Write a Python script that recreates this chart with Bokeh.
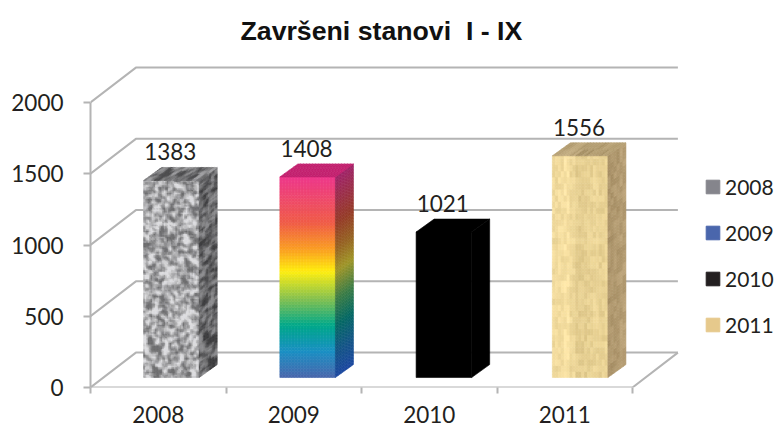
import math
from bokeh.plotting import figure
from bokeh.models import FixedTicker, Legend, LegendItem, Title
from bokeh.core.properties import value
from bokeh.embed import file_html
from bokeh.resources import INLINE

categories = ["2008", "2009", "2010", "2011"]
values = [1383, 1408, 1021, 1556]
y_ticks = [0, 500, 1000, 1500, 2000]
title_text = "Završeni stanovi\u00a0\u00a0I - IX"
legend_colors = ["#85858c", "#4a66ac", "#231f20", "#e6c98c"]

X_END = 687 / 135.5
Y_END = 337 / 0.1425
WALL_DX, WALL_DY = 0.335, 245
WALL_RIGHT = 4.0
BAR_X0, BAR_STEP, BAR_W = 0.392, 1.0055, 0.41
BAR_BASE = 70
BAR_DX, BAR_DY = 0.133, 91
GRAY = "#b4b4b4"
TEXT = "#231f20"

p = figure(width=777, height=430,
           x_range=(0, X_END), y_range=(0, Y_END),
           output_backend="svg", toolbar_location=None,
           min_border_left=90, min_border_right=0, min_border_bottom=43,
           min_border_top=50)
p.outline_line_color = None
p.grid.visible = False
p.background_fill_color = "white"

t = Title(text=title_text, text_font="Liberation Sans", text_font_style="bold",
          text_font_size="26.7px", text_color="#111111", align="left", offset=150, standoff=9)
p.add_layout(t, "above")

# axes
xa = p.xaxis[0]
xa.ticker = FixedTicker(ticks=[i + 0.5 for i in range(4)], minor_ticks=list(range(5)))
xa.major_label_overrides = {i + 0.5: c for i, c in enumerate(categories)}
xa.major_tick_line_color = None
xa.minor_tick_line_color = GRAY
xa.minor_tick_line_width = 2
xa.minor_tick_in = 0
xa.minor_tick_out = 6
xa.axis_line_color = None
xa.major_label_text_font = "Lato"
xa.major_label_text_font_size = "22.5px"
xa.major_label_text_color = TEXT
xa.major_label_standoff = 12

ya = p.yaxis[0]
ya.ticker = FixedTicker(ticks=y_ticks)
ya.major_tick_line_color = GRAY
ya.major_tick_line_width = 2
ya.major_tick_in = 0
ya.major_tick_out = 7
ya.minor_tick_line_color = None
ya.axis_line_color = GRAY
ya.axis_line_width = 2
ya.major_label_text_font = "Lato"
ya.major_label_text_font_size = "22.5px"
ya.major_label_text_color = TEXT
ya.major_label_standoff = 20
ya.bounds = (0, 2000)

# walls
xs, ys = [], []
for v in y_ticks:
    xs.append([0, WALL_DX, WALL_RIGHT + WALL_DX])
    ys.append([v, v + WALL_DY, v + WALL_DY])
xs.append([0, WALL_RIGHT, WALL_RIGHT + WALL_DX])
ys.append([0, 0, WALL_DY])
p.multi_line(xs, ys, line_color=GRAY, line_width=2)


def h(i, j, s=0):
    v = math.sin(i * 12.9898 + j * 78.233 + s * 37.719) * 43758.5453
    return v - math.floor(v)


def smooth(i, j, s=0):
    return (2 * h(i, j, s) + h(i + 1, j, s) + h(i - 1, j, s) + h(i, j + 1, s) + h(i, j - 1, s)) / 6


def blotch(i, j, s=0):
    total = 0
    for di in (-1, 0, 1):
        for dj in (-1, 0, 1):
            total += smooth(i + di, j + dj, s)
    return total / 9


def lerp(stops, f):
    for (a, ca), (b, cb) in zip(stops, stops[1:]):
        if f <= b:
            k = (f - a) / (b - a)
            return tuple(ca[n] + (cb[n] - ca[n]) * k for n in range(3))
    return stops[-1][1]


def hexc(c):
    return "#%02x%02x%02x" % tuple(max(0, min(255, int(round(x)))) for x in c)


rainbow = [(0.0, (238, 56, 140)), (0.23, (240, 92, 70)), (0.36, (250, 158, 34)), (0.47, (255, 238, 16)),
           (0.61, (130, 192, 80)), (0.74, (0, 168, 138)), (0.87, (26, 143, 196)), (1.0, (74, 102, 172))]
rainbow_side = [(0.0, (160, 36, 105)), (0.23, (150, 60, 40)), (0.36, (150, 100, 35)), (0.47, (160, 150, 40)),
                (0.61, (60, 125, 70)), (0.74, (5, 105, 100)), (0.87, (20, 85, 135)), (1.0, (28, 72, 160))]


def granite(i, j, face):
    n = blotch(i, j, 1)
    g = max(0, min(1, 0.55 + (n - 0.5) * 3.6 + (smooth(i, j, 2) - 0.5) * 1.2))
    lo, hi = {"front": (110, 222), "side": (60, 140), "top": (75, 160)}[face]
    c = lo + (hi - lo) * g
    return (c, c, c + 2)


def rain(i, j, face, nv=1):
    return lerp(rainbow if face == "front" else rainbow_side, 1 - (j + 0.5) / nv) if face != "top" else (194, 32, 110)


def black(i, j, face, nv=1):
    return (0, 0, 0)


def wood(i, j, face):
    band = smooth(i // 2, 0, 3) - 0.5
    n = h(i, j // 2, 4) - 0.5
    base = {"front": (237, 214, 152), "side": (170, 146, 104), "top": (182, 160, 116)}[face]
    d = band * 50 + n * 18
    return (base[0] + d, base[1] + d, base[2] + d)


cell_y = 3 / 0.1425
px, py, pc = [], [], []


def face(x0, y0, ux, uy, vx, vy, nu, nv, fn, name):
    for i in range(nu):
        for j in range(nv):
            a = i / nu; b = (i + 1) / nu; c = j / nv; d = (j + 1) / nv
            px.append([x0 + ux * a + vx * c, x0 + ux * b + vx * c, x0 + ux * b + vx * d, x0 + ux * a + vx * d])
            py.append([y0 + uy * a + vy * c, y0 + uy * b + vy * c, y0 + uy * b + vy * d, y0 + uy * a + vy * d])
            if fn in (rain, black):
                pc.append(hexc(fn(i, j, name, nv)))
            else:
                pc.append(hexc(fn(i, j, name)))


painters = [granite, rain, black, wood]
for k, v in enumerate(values):
    x0 = BAR_X0 + k * BAR_STEP
    fn = painters[k]
    fine = 2 if fn is granite else 1
    nh = int(v / cell_y) * fine
    if fn is black:
        face(x0, BAR_BASE, BAR_W, 0, 0, v, 1, 1, fn, "front")
        face(x0 + BAR_W, BAR_BASE, BAR_DX, BAR_DY, 0, v, 1, 1, fn, "side")
        face(x0, BAR_BASE + v, BAR_W, 0, BAR_DX, BAR_DY, 1, 1, fn, "top")
    else:
        face(x0, BAR_BASE, BAR_W, 0, 0, v, 19 * fine, nh, fn, "front")
        face(x0 + BAR_W, BAR_BASE, BAR_DX, BAR_DY, 0, v, 6 * fine, nh, fn, "side")
        face(x0, BAR_BASE + v, BAR_W, 0, BAR_DX, BAR_DY, 19 * fine, 4 * fine, fn, "top")

p.patches(px, py, fill_color=pc, line_color=pc, line_width=0.6)

# data labels
lx = [BAR_X0 + k * BAR_STEP + BAR_W / 2 - 0.008 for k in range(4)]
ly = [v + BAR_BASE + BAR_DY + 50 for v in values]
p.text(lx, ly, text=[str(v) for v in values], text_font=value("Lato"), text_font_size="22.5px",
       text_color=TEXT, text_align="center", text_baseline="bottom")

# legend
items = []
for c, col in zip(categories, legend_colors):
    r = p.quad(left=[float("nan")], right=[float("nan")], top=[float("nan")], bottom=[float("nan")],
               fill_color=col, line_color=col)
    items.append(LegendItem(label=c, renderers=[r]))
lg = Legend(items=items, location=(614, 50), orientation="vertical", spacing=21,
            glyph_width=17, glyph_height=17, label_standoff=4, padding=0, margin=0,
            border_line_color=None, background_fill_alpha=0,
            label_text_font="Lato", label_text_font_size="21px", label_text_color=TEXT)
p.add_layout(lg)

open("out.html", "w").write(file_html(p, INLINE))
